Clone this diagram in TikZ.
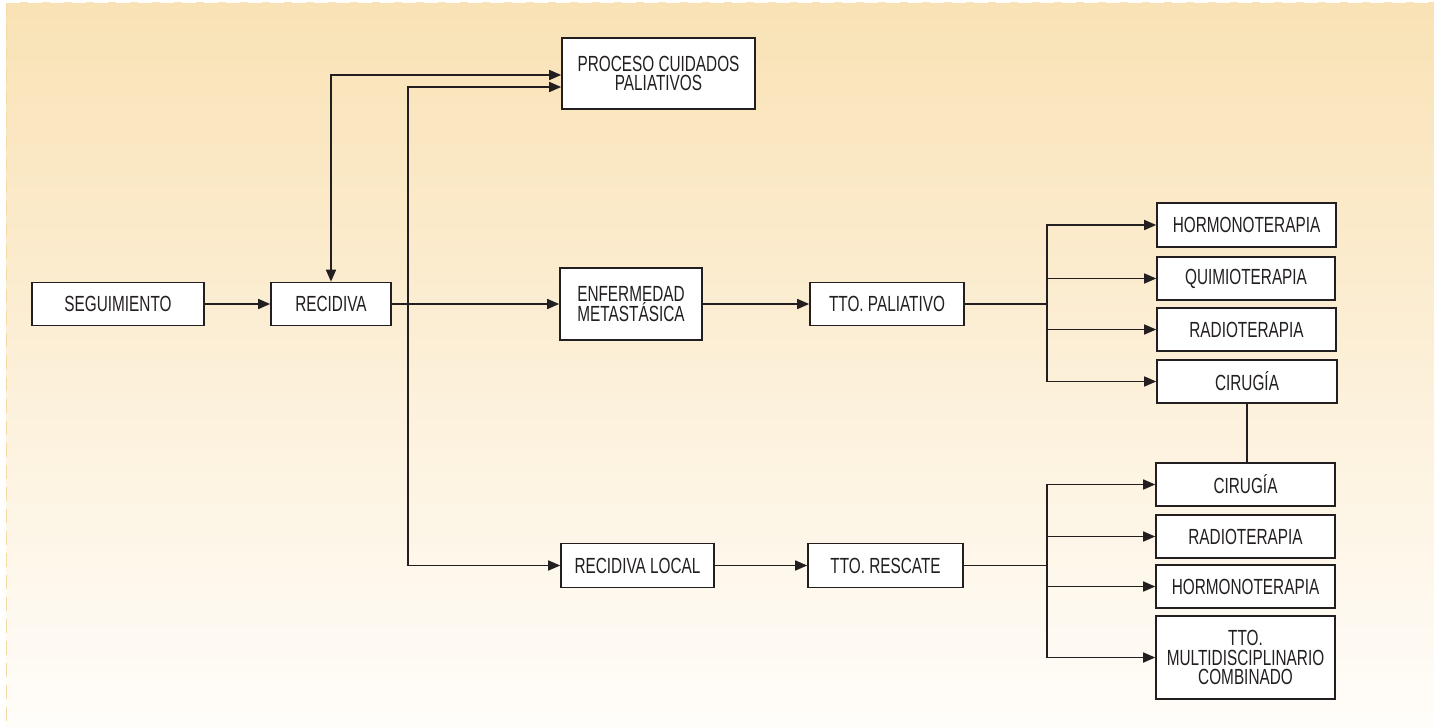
\documentclass[tikz,border=0pt]{standalone}
\usepackage{fontspec}
\setmainfont{Liberation Sans}[FakeStretch=0.7]
\usetikzlibrary{arrows.meta}

\definecolor{ink}{HTML}{231F20}
\definecolor{paneltop}{HTML}{F9E2B5}
\definecolor{panelbot}{HTML}{FFFDFA}
\definecolor{paneledge}{HTML}{F5D9A2}

\begin{document}
\begin{tikzpicture}[x=1bp,y=-1bp]
      \useasboundingbox (0,0) rectangle (1434,727);
      % panel
      \fill[white] (0,0) rectangle (1434,727);
      \shade[top color=paneltop,bottom color=panelbot] (6,3) rectangle (1434,727);
      \draw[paneledge,line width=1.5bp,dash pattern=on 14bp off 8bp] (6.5,3) -- (6.5,727);
      \draw[white,line width=1.5bp,dash pattern=on 14bp off 8bp] (6,2.5) -- (1434,2.5);
      \begin{scope}[every node/.style={draw=ink,fill=white,line width=1.6bp,text=ink,
          inner sep=0pt,align=center,minimum height=43bp,font=\fontsize{22}{19.5}\selectfont}]
        \node[minimum width=172bp] (seg) at (118,304) {SEGUIMIENTO};
        \node[minimum width=120bp] (rec) at (331,304) {RECIDIVA};
        \node[minimum width=193bp,minimum height=71bp] (proc) at (658.5,73.5) {PROCESO CUIDADOS\\PALIATIVOS};
        \node[minimum width=142bp,minimum height=72bp] (enf) at (631,304) {ENFERMEDAD\\METASTÁSICA};
        \node[minimum width=154bp] (tpal) at (887,304) {TTO. PALIATIVO};
        \node[minimum width=179bp,minimum height=44bp] (hor1) at (1246.5,225) {HORMONOTERAPIA};
        \node[minimum width=178bp] (qui1) at (1246,278.5) {QUIMIOTERAPIA};
        \node[minimum width=179bp] (rad1) at (1246.5,329.5) {RADIOTERAPIA};
        \node[minimum width=180bp] (cir1) at (1247,381.5) {CIRUGÍA};
        \node[minimum width=153bp,minimum height=44bp] (rloc) at (637.5,565.5) {RECIDIVA LOCAL};
        \node[minimum width=155bp,minimum height=44bp] (tres) at (885.5,565.5) {TTO. RESCATE};
        \node[minimum width=179bp] (cir2) at (1245.5,484.5) {CIRUGÍA};
        \node[minimum width=179bp] (rad2) at (1245.5,536.5) {RADIOTERAPIA};
        \node[minimum width=179bp] (hor2) at (1245.5,586.5) {HORMONOTERAPIA};
        \node[minimum width=179bp,minimum height=83bp] (multi) at (1245.5,657.5) {TTO.\\MULTIDISCIPLINARIO\\COMBINADO};
      \end{scope}
      \coordinate (fork) at (408,304);
      \coordinate (pfork) at (1047,304);
      \coordinate (rfork) at (1047,565.5);
      \begin{scope}[ink,line width=1.6bp,>={Triangle[length=12bp,width=10bp]}]
        \draw[->] (seg) -- (rec);
        \draw[->] (rec) -- (enf);
        \draw[<->] (rec.north) |- ([yshift=-1.5bp]proc.west);
        \draw[->] (fork) |- ([yshift=-13.5bp]proc.west);
        \draw[->] (fork) |- (rloc);
        \draw[->] (enf) -- (tpal);
        \draw (tpal) -- (pfork);
        \foreach \n in {hor1,qui1,rad1,cir1}
          \draw[->] (pfork) |- (\n.west);
        \draw (cir1.south) -- (cir1.south |- cir2.north);
        \draw[->] (rloc) -- (tres);
        \draw (tres) -- (rfork);
        \foreach \n in {cir2,rad2,hor2,multi}
          \draw[->] (rfork) |- (\n.west);
      \end{scope}
    \end{tikzpicture}
\end{document}
